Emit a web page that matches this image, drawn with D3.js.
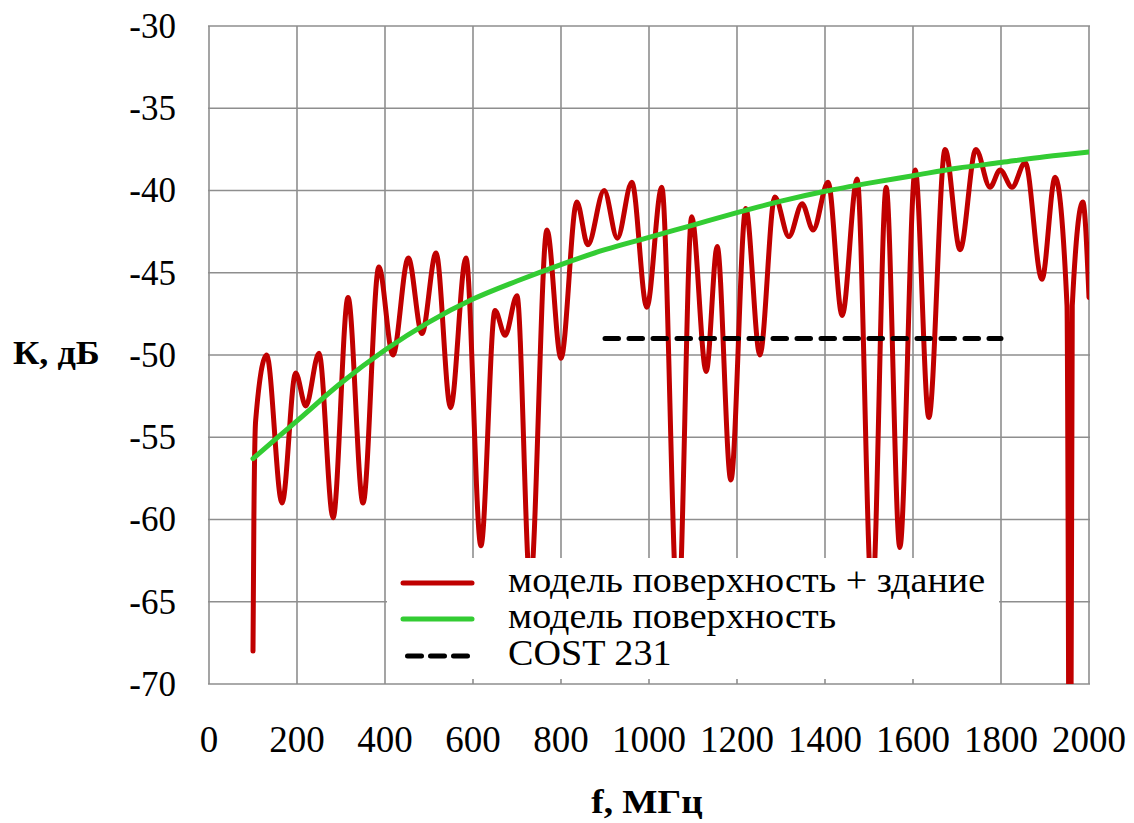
<!DOCTYPE html>
<html>
<head>
<meta charset="utf-8">
<script src="https://cdn.jsdelivr.net/npm/d3@7"></script>
<style>
  html, body { margin: 0; padding: 0; background: #fff; }
  svg { display: block; }
</style>
</head>
<body>
<svg id="chart" width="1134" height="823" font-family="'Liberation Serif', 'Times New Roman', Tinos, serif"></svg>
<script>
// Axis ticks
const freqTicks = [0, 200, 400, 600, 800, 1000, 1200, 1400, 1600, 1800, 2000];
const dbTicks = [-70, -65, -60, -55, -50, -45, -40, -35, -30];

// Surface + building model (oscillating curve), frequency in MHz and level in dB
const combinedMHz = [100, 102, 106, 131, 166, 197, 220, 250, 282, 316, 350, 386, 418, 453, 484, 516, 549,
  584, 618, 650, 673, 700, 730, 768, 800, 836, 861, 898, 928, 961, 995, 1029, 1066, 1097, 1130, 1155, 1186,
  1220, 1252, 1286, 1318, 1348, 1373, 1407, 1439, 1473, 1507, 1539, 1570, 1605, 1636, 1673, 1707, 1743,
  1775, 1798, 1825, 1855, 1893, 1923, 1950, 1957, 1962, 1986, 2000];
const combinedDb = [-68, -60, -54, -50.0, -59.0, -51.1, -53.1, -49.9, -59.9, -46.5, -59.0, -44.65, -50.0,
  -44.1, -48.7, -43.8, -53.2, -44.1, -61.6, -47.3, -48.8, -46.4, -64, -42.4, -50.2, -40.7, -43.3, -40.0,
  -42.9, -39.5, -47.1, -39.8, -66, -41.6, -51.0, -43.4, -57.6, -41.1, -50.0, -40.4, -42.8, -40.8, -42.4,
  -39.5, -47.6, -39.3, -65, -39.8, -61.7, -38.75, -53.8, -37.5, -43.6, -37.5, -39.8, -38.75, -39.8, -38.3,
  -45.4, -39.2, -47, -90, -47, -40.7, -46.5];

// Surface-only model (smooth curve)
const surfaceMHz = [100, 200, 300, 400, 500, 600, 700, 800, 900, 1000, 1100, 1200, 1300, 1400, 1500, 1600,
  1700, 1800, 1900, 2000];
const surfaceDb = [-56.3, -54.0, -51.7, -49.7, -48.0, -46.6, -45.5, -44.5, -43.6, -42.85, -42.1, -41.35, -40.65,
  -40.05, -39.55, -39.1, -38.65, -38.3, -37.95, -37.66];

// COST 231 reference level
const costMHz = [900, 1800];
const costDb = [-49, -49];

const seriesNames = ["модель поверхность + здание", "модель поверхность", "COST 231"];
const seriesColors = ["#c00000", "#33cc33", "#000000"];

const svg = d3.select("#chart");
const x = d3.scaleLinear().domain([0, 2000]).range([209, 1089]);
const y = d3.scaleLinear().domain([-70, -30]).range([684, 26]);
const [x0, x1] = x.range();
const [y0, y1] = y.range();

svg.append("defs").append("clipPath").attr("id", "plot-clip")
  .append("rect").attr("x", x0).attr("y", y1).attr("width", x1 - x0).attr("height", y0 - y1);

// Grid
const grid = svg.append("g").attr("stroke", "#8e8e8e").attr("stroke-width", 1.6);
grid.selectAll("line.v").data(freqTicks).join("line")
  .attr("x1", d => x(d)).attr("x2", d => x(d)).attr("y1", y1).attr("y2", y0);
grid.selectAll("line.h").data(dbTicks).join("line")
  .attr("y1", d => y(d)).attr("y2", d => y(d)).attr("x1", x0 - 1).attr("x2", x1 + 1);

// Tick labels
svg.append("g").selectAll("text").data(dbTicks).join("text")
  .attr("x", 176).attr("y", d => y(d)).attr("dy", "0.34em")
  .attr("text-anchor", "end").attr("font-size", 35)
  .text(d => String(d));
svg.append("g").selectAll("text").data(freqTicks).join("text")
  .attr("x", d => x(d)).attr("y", 752)
  .attr("text-anchor", "middle").attr("font-size", 37)
  .text(d => d);

// Axis titles (slightly widened glyphs)
svg.append("text").attr("transform", "translate(13,364) scale(1.1,1)")
  .attr("font-size", 33).attr("font-weight", "bold").text("К, дБ");
svg.append("text").attr("transform", "translate(647,813) scale(1.13,1)")
  .attr("text-anchor", "middle").attr("font-size", 33).attr("font-weight", "bold").text("f, МГц");

// Series
const line = d3.line().x(d => x(d[0])).y(d => y(d[1]));
const plot = svg.append("g").attr("clip-path", "url(#plot-clip)")
  .attr("fill", "none").attr("stroke-width", 5).attr("stroke-linejoin", "round");

plot.append("path")
  .datum(d3.zip(combinedMHz, combinedDb))
  .attr("stroke", seriesColors[0]).attr("stroke-linecap", "round")
  .attr("d", line.curve(d3.curveMonotoneX));
plot.append("path")
  .datum(d3.zip(surfaceMHz, surfaceDb))
  .attr("stroke", seriesColors[1]).attr("stroke-linecap", "round")
  .attr("d", line.curve(d3.curveMonotoneX));
plot.append("path")
  .datum(d3.zip(costMHz, costDb))
  .attr("stroke", seriesColors[2]).attr("stroke-linecap", "round")
  .attr("stroke-dasharray", "13.5 10.5")
  .attr("d", line.curve(d3.curveLinear));

// Legend
const legend = svg.append("g");
legend.append("rect").attr("x", 387).attr("y", 558).attr("width", 612).attr("height", 121).attr("fill", "#fff");
const rows = legend.selectAll("g.row").data(seriesNames).join("g")
  .attr("transform", (d, i) => `translate(0, ${[583, 619, 656][i]})`);
rows.append("line")
  .attr("x1", (d, i) => i === 2 ? 407.5 : 403).attr("x2", (d, i) => i === 2 ? 467.5 : 472)
  .attr("y1", 0).attr("y2", 0)
  .attr("stroke", (d, i) => seriesColors[i]).attr("stroke-width", 5).attr("stroke-linecap", "round")
  .attr("stroke-dasharray", (d, i) => i === 2 ? "14 9" : null);
rows.append("text").attr("transform", "translate(508,9) scale(1.09,1)")
  .attr("font-size", 35).text(d => d);
</script>
</body>
</html>
